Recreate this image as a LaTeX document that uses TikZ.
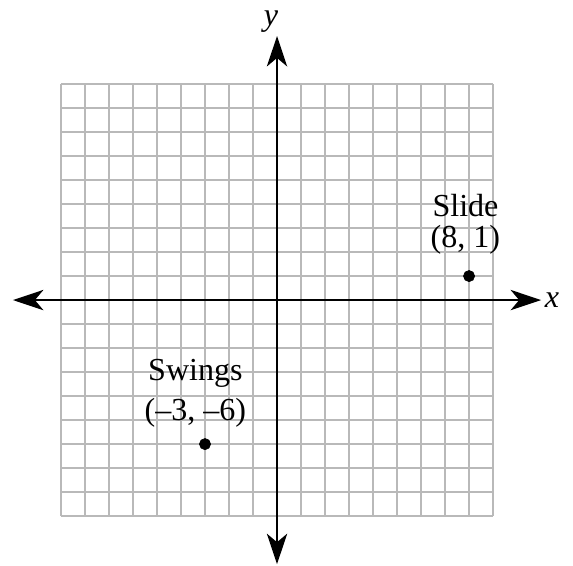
\documentclass[tikz,border=0pt]{standalone}
\usepackage{fontspec}
\setmainfont{Liberation Serif}
\usetikzlibrary{arrows.meta}

\tikzset{
    gridline/.style={gray!55, line width=1.1pt},
    axisline/.style={line width=1.6pt, Stealth-Stealth, arrows={[length=18pt, width=12pt, inset=5pt]}},
    ptlabel/.style={font=\fontsize{19}{22}\selectfont, align=center, inner sep=1pt},
}

\begin{document}
\begin{tikzpicture}[x=0.5cm, y=0.5cm]
        % Fix the frame to the reference proportions
        \useasboundingbox (-11.54,-11.04) rectangle (12.33,12.5);
        \coordinate (o) at (0,0);

        % Grid from -9 to 9
        \draw[gridline, step=0.5cm] (-9,-9) grid (9,9);

        % Axes
        \coordinate (xl) at (-11,0);
        \coordinate (xr) at (11,0);
        \coordinate (yb) at (0,-11);
        \coordinate (yt) at (0,11);
        \draw[axisline] (xl) -- (xr);
        \draw[axisline] (yb) -- (yt);
        \node[ptlabel] (xlab) at (11.45,0) {\textit{x}};
        \node[ptlabel, inner sep=0pt] (ylab) at (-0.25,11.6) {\textit{y}};

        % Slide
        \filldraw (8,1) circle (3.3pt) coordinate (slide);
        \node[ptlabel] (slidename) at (7.85,3.95) {Slide};
        \node[ptlabel] (slidept) at (7.85,2.5) {(8, 1)};

        % Swings
        \filldraw (-3,-6) circle (3.3pt) coordinate (swings);
        \node[ptlabel] (swingsname) at (-3.4,-3.05) {Swings};
        \node[ptlabel] (swingspt) at (-3.4,-4.7) {(--3, --6)};
    \end{tikzpicture}
\end{document}
